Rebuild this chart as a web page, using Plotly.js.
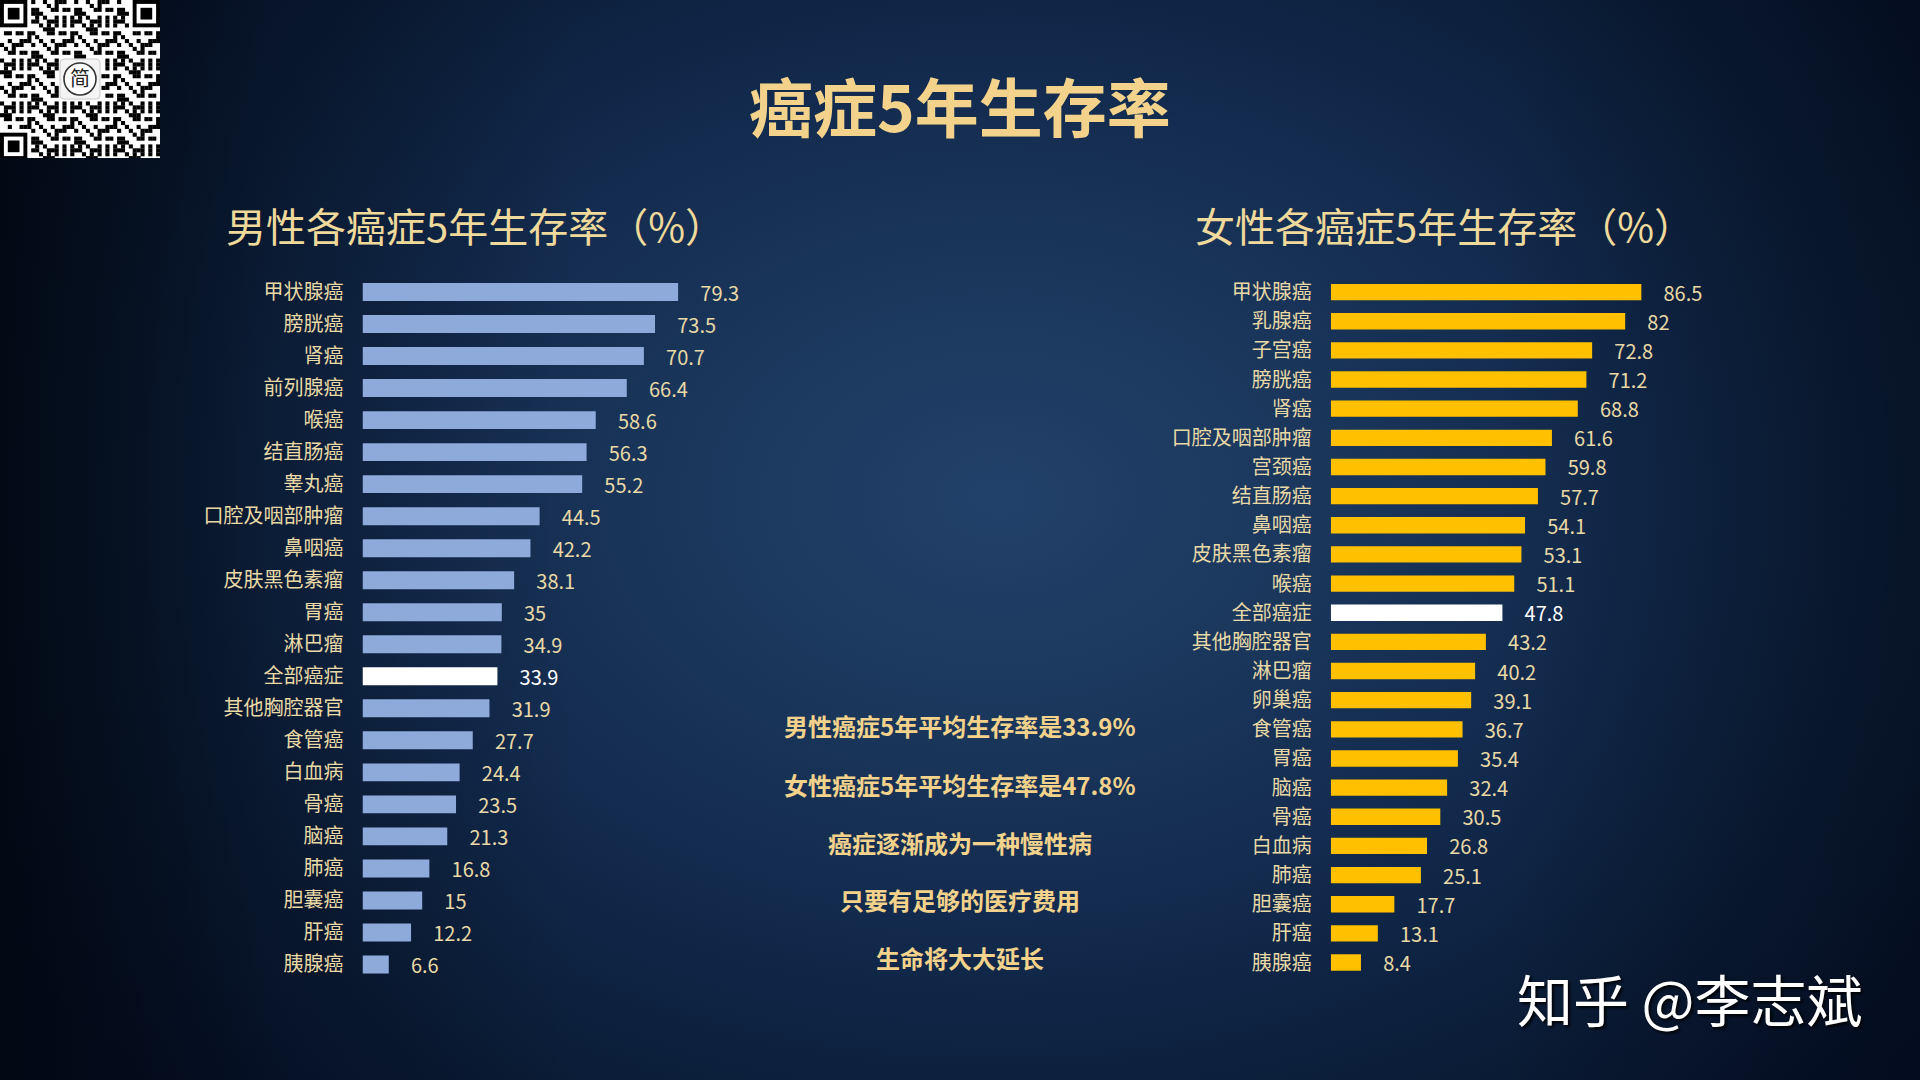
<!DOCTYPE html>
<html>
<head>
<meta charset="utf-8">
<script src="https://cdn.plot.ly/plotly-3.0.1.min.js"></script>
<style>
  html, body { margin:0; padding:0; width:1920px; height:1080px; overflow:hidden; }
  body {
    background:
      linear-gradient(90deg, rgba(0,4,10,0.70) 0%, rgba(0,4,10,0.25) 14%, rgba(0,0,0,0) 30%, rgba(0,0,0,0) 78%, rgba(0,4,10,0.35) 100%),
      radial-gradient(ellipse 62% 78% at 52% 46%, #22416a 0%, #1a365b 28%, #11284a 55%, #0a1b35 80%, #06112a 100%);
  }
  #chart { width:1920px; height:1080px; }
</style>
</head>
<body>
<div id="chart"></div>
<script>
// ---------------- data ----------------
const maleCategories = ['甲状腺癌','膀胱癌','肾癌','前列腺癌','喉癌','结直肠癌','睾丸癌','口腔及咽部肿瘤','鼻咽癌','皮肤黑色素瘤','胃癌','淋巴瘤','全部癌症','其他胸腔器官','食管癌','白血病','骨癌','脑癌','肺癌','胆囊癌','肝癌','胰腺癌'];
const maleValues = [79.3, 73.5, 70.7, 66.4, 58.6, 56.3, 55.2, 44.5, 42.2, 38.1, 35, 34.9, 33.9, 31.9, 27.7, 24.4, 23.5, 21.3, 16.8, 15, 12.2, 6.6];

const femaleCategories = ['甲状腺癌','乳腺癌','子宫癌','膀胱癌','肾癌','口腔及咽部肿瘤','宫颈癌','结直肠癌','鼻咽癌','皮肤黑色素瘤','喉癌','全部癌症','其他胸腔器官','淋巴瘤','卵巢癌','食管癌','胃癌','脑癌','骨癌','白血病','肺癌','胆囊癌','肝癌','胰腺癌'];
const femaleValues = [86.5, 82, 72.8, 71.2, 68.8, 61.6, 59.8, 57.7, 54.1, 53.1, 51.1, 47.8, 43.2, 40.2, 39.1, 36.7, 35.4, 32.4, 30.5, 26.8, 25.1, 17.7, 13.1, 8.4];

const mainTitle = '癌症5年生存率';
const maleTitle = '男性各癌症5年生存率（%）';
const femaleTitle = '女性各癌症5年生存率（%）';
const notes = ['男性癌症5年平均生存率是33.9%','女性癌症5年平均生存率是47.8%','癌症逐渐成为一种慢性病','只要有足够的医疗费用','生命将大大延长'];
const watermark = '知乎 @李志斌';
const highlightCategory = '全部癌症';

// ---------------- styles ----------------
const W = 1920, H = 1080;
const FONT = '"Microsoft YaHei", "Noto Sans CJK SC", "Noto Sans", sans-serif';
const beige = '#e8d9a6';
const gold = '#f3d38b';
const maleColor = '#8eaadb';
const femaleColor = '#ffc000';
const nb = '\u00a0\u00a0\u00a0\u00a0\u200a';

function colorsFor(cats, base){ return cats.map(c => c === highlightCategory ? '#ffffff' : base); }
function textColorsFor(cats){ return cats.map(c => c === highlightCategory ? '#ffffff' : beige); }

const traces = [
  {
    type:'bar', orientation:'h', x:maleValues, y:maleCategories,
    xaxis:'x', yaxis:'y',
    marker:{color:colorsFor(maleCategories, maleColor)},
    texttemplate: nb + '%{x}', textposition:'outside', cliponaxis:false, constraintext:'none',
    textfont:{family:FONT, size:20, color:textColorsFor(maleCategories)},
    hoverinfo:'none'
  },
  {
    type:'bar', orientation:'h', x:femaleValues, y:femaleCategories,
    xaxis:'x2', yaxis:'y2',
    marker:{color:colorsFor(femaleCategories, femaleColor)},
    texttemplate: nb + '%{x}', textposition:'outside', cliponaxis:false, constraintext:'none',
    textfont:{family:FONT, size:20, color:textColorsFor(femaleCategories)},
    hoverinfo:'none'
  }
];

// layout positions (pixels -> paper)
const px = v => v / W;
const py = v => 1 - v / H;

const yaxisBase = {
  type:'category', showgrid:false, zeroline:false, showline:false, ticks:'',
  tickfont:{family:FONT, size:20, color:beige}, ticklabelstandoff:18, fixedrange:true
};

// QR-like decoration
function qrSvg(){
  const N = 41, s = 160 / N;
  let r = '<svg xmlns="http://www.w3.org/2000/svg" width="160" height="158" viewBox="0 0 160 158">';
  r += '<rect x="0" y="0" width="160" height="158" fill="#ffffff"/>';
  const inFinder = (i,j) => (i<8 && j<8) || (i>=N-8 && j<8) || (i<8 && j>=N-8);
  const inLogo = (i,j) => i>=15 && i<=25 && j>=15 && j<=25;
  for (let i=0;i<N;i++){
    for (let j=0;j<N;j++){
      if (inFinder(i,j) || inLogo(i,j)) continue;
      const h = ((i*37 + 11) * (j*53 + 7) + i*i*13 + j*j*29 + i*j*5) % 11;
      if (h < 5) r += '<rect x="'+(i*s).toFixed(2)+'" y="'+(j*s).toFixed(2)+'" width="'+(s+0.2).toFixed(2)+'" height="'+(s+0.2).toFixed(2)+'" fill="#000"/>';
    }
  }
  const finder = (i0,j0) => {
    r += '<rect x="'+(i0*s)+'" y="'+(j0*s)+'" width="'+(7*s)+'" height="'+(7*s)+'" fill="#000"/>';
    r += '<rect x="'+((i0+1)*s)+'" y="'+((j0+1)*s)+'" width="'+(5*s)+'" height="'+(5*s)+'" fill="#fff"/>';
    r += '<rect x="'+((i0+2)*s)+'" y="'+((j0+2)*s)+'" width="'+(3*s)+'" height="'+(3*s)+'" fill="#000"/>';
  };
  finder(0,0); finder(N-7,0); finder(0,N-7);
  r += '<rect x="60" y="59" width="40" height="40" rx="4" fill="#f4f4f4" stroke="#cccccc" stroke-width="1"/>';
  r += '<circle cx="80" cy="79" r="16" fill="#ffffff" stroke="#333333" stroke-width="1.6"/>';
  r += '<text x="80" y="86" text-anchor="middle" font-size="20" font-family="Noto Sans CJK SC, sans-serif" fill="#222">简</text>';
  r += '</svg>';
  return 'data:image/svg+xml;charset=utf-8,' + encodeURIComponent(r);
}

const annotations = [
  {text:mainTitle, x:px(960), y:py(104), font:{family:FONT, size:64, color:gold, weight:'bold'}},
  {text:maleTitle, x:px(475), y:py(225), font:{family:FONT, size:40, color:'#efd99b'}},
  {text:femaleTitle, x:px(1444), y:py(225), font:{family:FONT, size:40, color:'#efd99b'}},
  {text:watermark, x:px(1690), y:py(997), font:{family:FONT, size:56, color:'#ffffff', shadow:'2px 2px 3px rgba(0,0,0,0.9)'}}
];
const noteY = [725, 784, 842, 899, 957];
notes.forEach((t, k) => annotations.push({text:t, x:px(960), y:py(noteY[k]), font:{family:FONT, size:24, color:gold, weight:'bold'}}));
annotations.forEach(a => { a.xref='paper'; a.yref='paper'; a.xanchor='center'; a.yanchor='middle'; a.showarrow=false; });

const layout = {
  width:W, height:H,
  margin:{l:0, r:0, t:0, b:0},
  paper_bgcolor:'rgba(0,0,0,0)', plot_bgcolor:'rgba(0,0,0,0)',
  showlegend:false,
  font:{family:FONT},
  xaxis:{domain:[px(362.5), px(760.5)], range:[0,100], visible:false, fixedrange:true},
  yaxis:Object.assign({}, yaxisBase, {anchor:'x', domain:[py(980.5), py(276)], range:[maleCategories.length-0.5, -0.5]}),
  xaxis2:{domain:[px(1330.8), px(1689.8)], range:[0,100], visible:false, fixedrange:true, anchor:'y2'},
  yaxis2:Object.assign({}, yaxisBase, {anchor:'x2', domain:[py(977.1), py(277.5)], range:[femaleCategories.length-0.5, -0.5]}),
  bargap:0.44,
  annotations:annotations,
  images:[{source:qrSvg(), xref:'paper', yref:'paper', x:0, y:1, sizex:160/W, sizey:158/H, xanchor:'left', yanchor:'top', sizing:'stretch', layer:'above'}]
};

Plotly.newPlot('chart', traces, layout, {staticPlot:true, displayModeBar:false});
</script>
</body>
</html>
